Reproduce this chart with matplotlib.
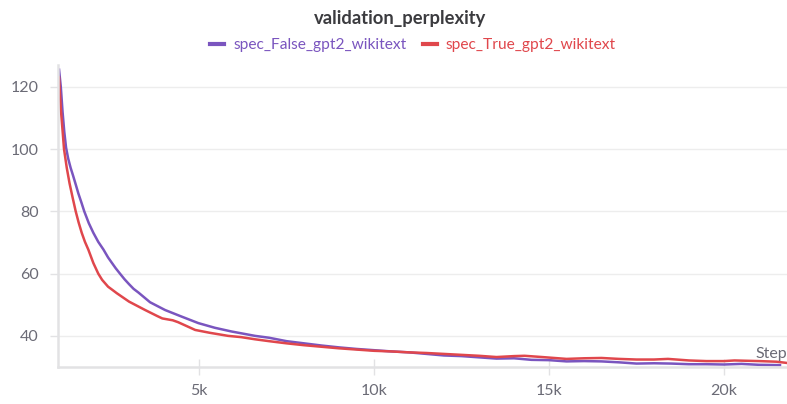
"""
validation_perplexity curves for spec_False / spec_True (gpt2, wikitext).
Output: out.png
"""

import matplotlib
matplotlib.use("Agg")
import matplotlib.pyplot as plt
from matplotlib.ticker import FixedLocator, FuncFormatter

# values
steps_false = [1000, 1050, 1100, 1150, 1200, 1260, 1330, 1400, 1480, 1550,
               1640, 1720, 1850, 1980, 2120, 2270, 2400, 2500, 2620, 2740,
               2870, 3000, 3130, 3270, 3600, 4030, 4500, 4980, 5450, 5930,
               6600, 7000, 7500, 8000, 8500, 9000, 9500, 10000, 10500, 11000,
               11500, 12000, 12500, 13000, 13500, 14000, 14500, 15000, 15500, 16000,
               16500, 17000, 17500, 18000, 18500, 19000, 19500, 20000, 20500, 21000,
               21600]
ppl_false = [125.5, 120, 112, 105.5, 100.5, 97, 94, 91.5, 88.5, 85.8,
             82.8, 80, 76.2, 73.1, 70.2, 67.7, 65.2, 63.6, 61.7, 60,
             58.2, 56.6, 55.1, 53.9, 50.8, 48.3, 46.2, 44.1, 42.6, 41.4,
             40.0, 39.4, 38.3, 37.6, 36.9, 36.3, 35.8, 35.4, 35.0, 34.7,
             34.2, 33.7, 33.5, 33.1, 32.7, 32.8, 32.3, 32.2, 31.8, 31.9,
             31.8, 31.5, 31.1, 31.2, 31.1, 30.9, 30.9, 30.8, 31.0, 30.7,
             30.6]

steps_true = [1000, 1050, 1100, 1142, 1220, 1300, 1390, 1476, 1560, 1648,
              1740, 1837, 1980, 2120, 2230, 2400, 2520, 2650, 3000, 3460,
              3800, 3950, 4100, 4250, 4400, 4890, 5300, 5830, 6200, 6600,
              7000, 7500, 8000, 8500, 9000, 9500, 10000, 10500, 11000, 11500,
              12000, 12500, 13000, 13500, 14000, 14300, 14800, 15500, 16000, 16500,
              17000, 17500, 18000, 18400, 19000, 19500, 20000, 20300, 21000, 21500,
              21800]
ppl_true = [123, 113, 106, 100, 94, 89, 84.3, 80, 76.4, 73.1,
            70.2, 67.7, 63.4, 60, 58.0, 55.8, 54.8, 53.7, 51.0, 48.3,
            46.4, 45.6, 45.3, 45.0, 44.4, 41.9, 41.0, 40.0, 39.6, 38.9,
            38.3, 37.6, 37.0, 36.5, 36.0, 35.6, 35.2, 35.0, 34.7, 34.5,
            34.2, 33.9, 33.6, 33.2, 33.5, 33.6, 33.2, 32.6, 32.8, 32.9,
            32.6, 32.4, 32.4, 32.6, 32.1, 31.9, 31.9, 32.1, 31.9, 31.7,
            31.3]

x_ticks = [5000, 10000, 15000, 20000]
y_ticks = [40, 60, 80, 100, 120]

PURPLE = "#7a55bf"
RED = "#e0474c"
TICK_GRAY = "#6b6b76"
SPINE_GRAY = "#e2e2e4"
GRID_GRAY = "#ededed"

plt.rcParams["font.family"] = ["Lato", "DejaVu Sans"]

fig = plt.figure(figsize=(7.87, 4.04), dpi=100)
ax = fig.add_axes([58 / 787, 1 - 367 / 404, 1 - 58 / 787, 302 / 404])

ax.plot(steps_false, ppl_false, color=PURPLE, lw=1.8,
        label="spec_False_gpt2_wikitext", solid_joinstyle="round")
ax.plot(steps_true, ppl_true, color=RED, lw=1.8,
        label="spec_True_gpt2_wikitext", solid_joinstyle="round")

ax.set_xlim(970, 21800)
ax.set_ylim(30, 127)

ax.xaxis.set_major_locator(FixedLocator(x_ticks))
ax.xaxis.set_major_formatter(FuncFormatter(lambda v, p: f"{int(v / 1000)}k"))
ax.yaxis.set_major_locator(FixedLocator(y_ticks))

ax.grid(axis="y", color=GRID_GRAY, lw=1.0)
ax.set_axisbelow(True)

for side in ["top", "right"]:
    ax.spines[side].set_visible(False)
for side in ["left", "bottom"]:
    ax.spines[side].set_color(SPINE_GRAY)
    ax.spines[side].set_linewidth(1.8)

ax.tick_params(axis="x", direction="inout", length=12, width=1,
               color=SPINE_GRAY, labelcolor=TICK_GRAY, labelsize=11.5, pad=6)
ax.tick_params(axis="y", direction="out", length=6, width=1,
               color=SPINE_GRAY, labelcolor=TICK_GRAY, labelsize=11.5, pad=8)

ax.text(1.0, 0.02, "Step", transform=ax.transAxes, ha="right", va="bottom",
        color=TICK_GRAY, fontsize=11.5)

fig.suptitle("validation_perplexity", x=0.508, y=0.975, fontsize=13.2,
             fontweight="bold", color="#3b3b3f")

leg = fig.legend(loc="center", bbox_to_anchor=(0.525, 1 - 45 / 404), ncol=2,
                 frameon=False, fontsize=11.2, handlelength=0.9,
                 handletextpad=0.6, columnspacing=1.0, labelcolor="linecolor")
for h in leg.legend_handles:
    h.set_linewidth(3)

fig.savefig("out.png", dpi=100)
plt.close(fig)
